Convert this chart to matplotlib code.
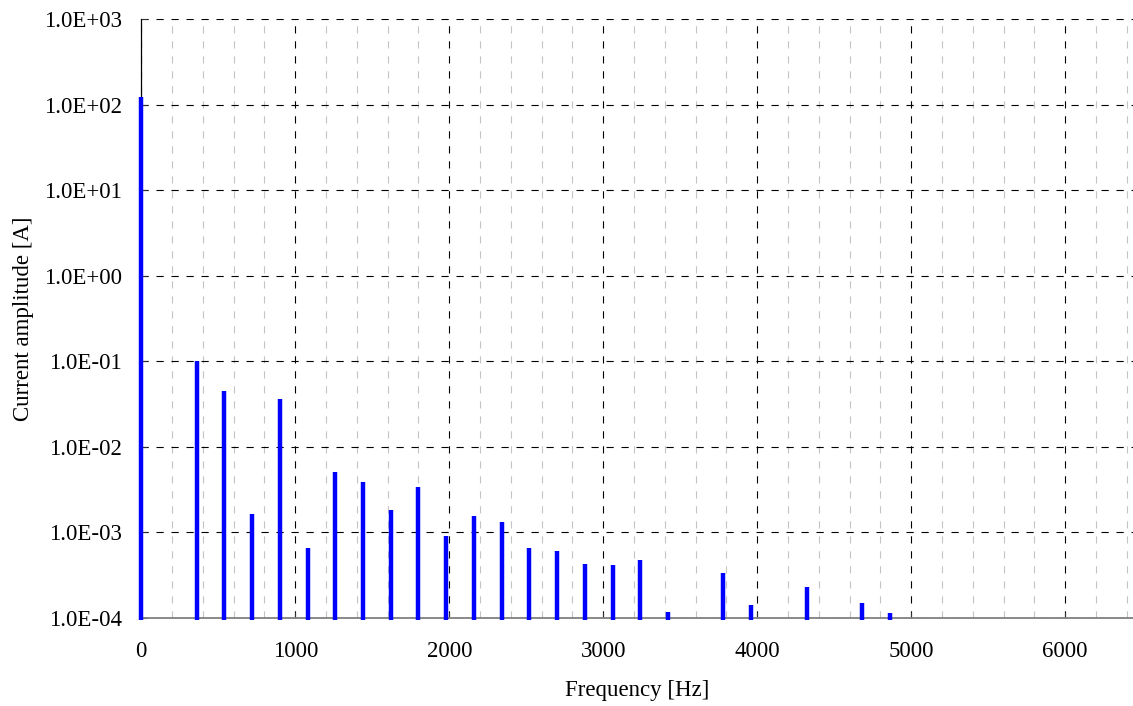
import matplotlib
matplotlib.use("Agg")
import matplotlib.pyplot as plt
from matplotlib.ticker import FixedLocator, FuncFormatter, NullLocator, MultipleLocator

# ---- data ----
freqs = [0, 360, 540, 720, 900, 1080, 1260, 1440, 1620, 1800, 1980, 2160,
         2340, 2520, 2700, 2880, 3060, 3240, 3420, 3780, 3960, 4320, 4680, 4860]
amps = [122, 0.1, 0.045, 0.00162, 0.0362, 0.00065, 0.00512, 0.00387, 0.00181,
        0.00336, 0.000898, 0.00155, 0.00131, 0.00065, 0.000604, 0.000426,
        0.000418, 0.00047, 0.000117, 0.000333, 0.000141, 0.000232, 0.000149,
        0.000113]
yticks = [1e-4, 1e-3, 1e-2, 1e-1, 1e0, 1e1, 1e2, 1e3]
xticks = [0, 1000, 2000, 3000, 4000, 5000, 6000]
x_max = 6440
y_min, y_max = 1e-4, 1e3

plt.rcParams['font.family'] = ['Liberation Serif', 'DejaVu Serif']
plt.rcParams['lines.scale_dashes'] = False

W, H = 1133, 706
fig = plt.figure(figsize=(W / 100, H / 100), dpi=100)
left, right = 141.3 / W, 1.0
bottom, top = (H - 617.8) / H, (H - 19.3) / H
ax = fig.add_axes([left, bottom, right - left, top - bottom])

ax.set_yscale('log')
ax.set_xlim(0, x_max)
ax.set_ylim(y_min, y_max)

dash = (0, (5.2, 5.6))
ax.set_axisbelow(True)
ax.xaxis.set_major_locator(FixedLocator(xticks))
ax.xaxis.set_minor_locator(MultipleLocator(200))
ax.yaxis.set_major_locator(FixedLocator(yticks))
ax.yaxis.set_minor_locator(NullLocator())
ax.yaxis.set_major_formatter(FuncFormatter(lambda v, p: f"{v:.1E}"))

ax.grid(True, which='major', axis='both', color='black', linestyle=dash, linewidth=0.8)
ax.grid(True, which='minor', axis='x', color='#c4c4c4', linestyle=dash, linewidth=0.8)

ax.vlines(freqs, y_min * 0.95, amps, colors='#0000ff', linewidth=3.2, zorder=3, clip_on=False)

for s in ['top', 'right']:
    ax.spines[s].set_visible(False)
ax.spines['left'].set_color('black')
ax.spines['left'].set_linewidth(0.9)
ax.spines['bottom'].set_color('#808080')
ax.spines['bottom'].set_linewidth(1.3)

ax.tick_params(axis='both', which='major', direction='in', length=4.5,
               labelsize=16.5, color='#333333')
ax.tick_params(axis='y', pad=14)
ax.tick_params(axis='x', pad=17)
ax.tick_params(axis='x', which='minor', direction='in', length=4, color='#c4c4c4')

ax.set_xlabel('Frequency [Hz]', fontsize=16.5, labelpad=13)
ax.set_ylabel('Current amplitude [A]', fontsize=16.5, labelpad=7)

fig.savefig('out.png', dpi=100)
